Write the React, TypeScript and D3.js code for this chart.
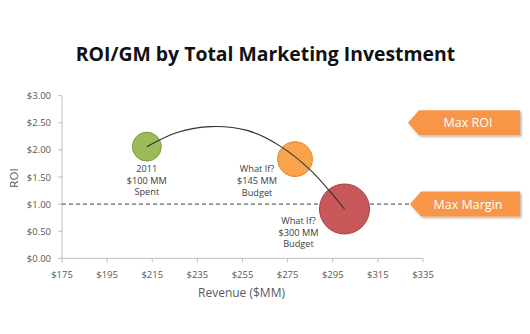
import React from "react";
import * as d3 from "d3";

const xTicks = [175, 195, 215, 235, 255, 275, 295, 315, 335];
const yTicks = [0, 0.5, 1, 1.5, 2, 2.5, 3];
const bubbleNames = ["2011", "What If?", "What If?"];
const bubbleRevenue = [212.6, 278.3, 300.2];
const bubbleROI = [2.06, 1.83, 0.91];
const bubbleBudget = [100, 145, 300];
const bubbleBudgetLabels = ["$100 MM", "$145 MM", "$300 MM"];
const bubbleFooter = ["Spent", "Budget", "Budget"];
const bubbleFill = ["#9BBB59", "#F9A34C", "#C9585A"];
const bubbleStroke = ["#7A9A3A", "#E08A2C", "#A8403F"];
const trendRevenue = [212.6, 226, 241, 257, 271.7, 285, 300.2];
const trendROI = [2.06, 2.32, 2.43, 2.36, 2.07, 1.63, 0.91];
const thresholdROI = 1.0;
const calloutLabels = ["Max ROI", "Max Margin"];
const calloutROI = [2.5, 1.0];

const W = 530;
const H = 334;
const left = 62;
const right = 423;
const top = 95.7;
const bottom = 258.3;

export default function App() {
  const x = d3.scaleLinear().domain([175, 335]).range([left, right]);
  const y = d3.scaleLinear().domain([0, 3]).range([bottom, top]);
  const r = d3.scaleSqrt().domain([0, 300]).range([0, 25]);
  const line = d3
    .line<number>()
    .x((_, i) => x(trendRevenue[i]))
    .y((d) => y(d))
    .curve(d3.curveCatmullRom.alpha(0.5));
  const font = "Open Sans, Lato, sans-serif";
  const textCol = "#404040";
  const labelOffsets = [
    [0, 25],
    [-38, 13],
    [-46, 15],
  ];
  return (
    <svg
      width={W}
      height={H}
      style={{ position: "absolute", left: 0, top: 0, background: "#fff" }}
      fontFamily={font}
    >
      <defs>
        <filter id="sh" x="-10%" y="-20%" width="130%" height="160%">
          <feDropShadow dx="1.5" dy="1.5" stdDeviation="1" floodColor="#000" floodOpacity="0.3" />
        </filter>
      </defs>
      <text
        x={265.5}
        y={60.5}
        textAnchor="middle"
        fontSize={19.4}
        fontWeight="bold"
        fill="#111"
      >
        ROI/GM by Total Marketing Investment
      </text>
      {/* axes */}
      <line x1={left} x2={left} y1={top} y2={bottom} stroke="#bfbfbf" />
      <line x1={left} x2={right} y1={bottom} y2={bottom} stroke="#bfbfbf" />
      {yTicks.map((t) => (
        <g key={"y" + t}>
          <line x1={left - 4} x2={left} y1={y(t)} y2={y(t)} stroke="#bfbfbf" />
          <text x={51} y={y(t) + 3.5} textAnchor="end" fontSize={9.5} fill="#595959">
            {d3.format("$.2f")(t)}
          </text>
        </g>
      ))}
      {xTicks.map((t) => (
        <g key={"x" + t}>
          <line x1={x(t)} x2={x(t)} y1={bottom} y2={bottom + 4} stroke="#bfbfbf" />
          <text x={x(t)} y={277.5} textAnchor="middle" fontSize={9.5} fill="#595959">
            {"$" + t}
          </text>
        </g>
      ))}
      <text x={241.5} y={297} textAnchor="middle" fontSize={12} fill="#595959">
        Revenue ($MM)
      </text>
      <text
        transform={`translate(18,178) rotate(-90)`}
        textAnchor="middle"
        fontSize={11.5}
        fill="#595959"
      >
        ROI
      </text>
      {/* threshold */}
      <line
        x1={left}
        x2={410}
        y1={y(thresholdROI)}
        y2={y(thresholdROI)}
        stroke="#404040"
        strokeDasharray="4,3"
        strokeWidth={1}
      />
      {/* bubbles */}
      {bubbleRevenue.map((v, i) => (
        <circle
          key={"b" + i}
          cx={x(v)}
          cy={y(bubbleROI[i])}
          r={r(bubbleBudget[i])}
          fill={bubbleFill[i]}
          stroke={bubbleStroke[i]}
          strokeWidth={1}
        />
      ))}
      {/* trend */}
      <path d={line(trendROI) || ""} fill="none" stroke="#303030" strokeWidth={1.1} />
      {/* labels */}
      {bubbleRevenue.map((v, i) => {
        const cx = x(v) + labelOffsets[i][0];
        const cy = y(bubbleROI[i]) + labelOffsets[i][1];
        return (
          <text key={"l" + i} textAnchor="middle" fontSize={9.2} fill={textCol}>
            <tspan x={cx} y={cy}>{bubbleNames[i]}</tspan>
            <tspan x={cx} y={cy + 12}>{bubbleBudgetLabels[i]}</tspan>
            <tspan x={cx} y={cy + 23.5}>{bubbleFooter[i]}</tspan>
          </text>
        );
      })}
      {/* callouts */}
      {calloutLabels.map((lab, i) => {
        const cy = y(calloutROI[i]);
        const tip = i === 0 ? 408 : 410;
        const bodyX = tip + 11;
        const h = 12.5;
        const pts = [
          [tip, cy],
          [bodyX, cy - h],
          [520, cy - h],
          [520, cy + h],
          [bodyX, cy + h],
        ];
        return (
          <g key={"c" + i}>
            <polygon
              points={pts.map((p) => p.join(",")).join(" ")}
              fill="#F79646"
              filter="url(#sh)"
            />
            <text x={468} y={cy + 4.5} textAnchor="middle" fontSize={12.5} fill="#fff">
              {lab}
            </text>
          </g>
        );
      })}
    </svg>
  );
}
